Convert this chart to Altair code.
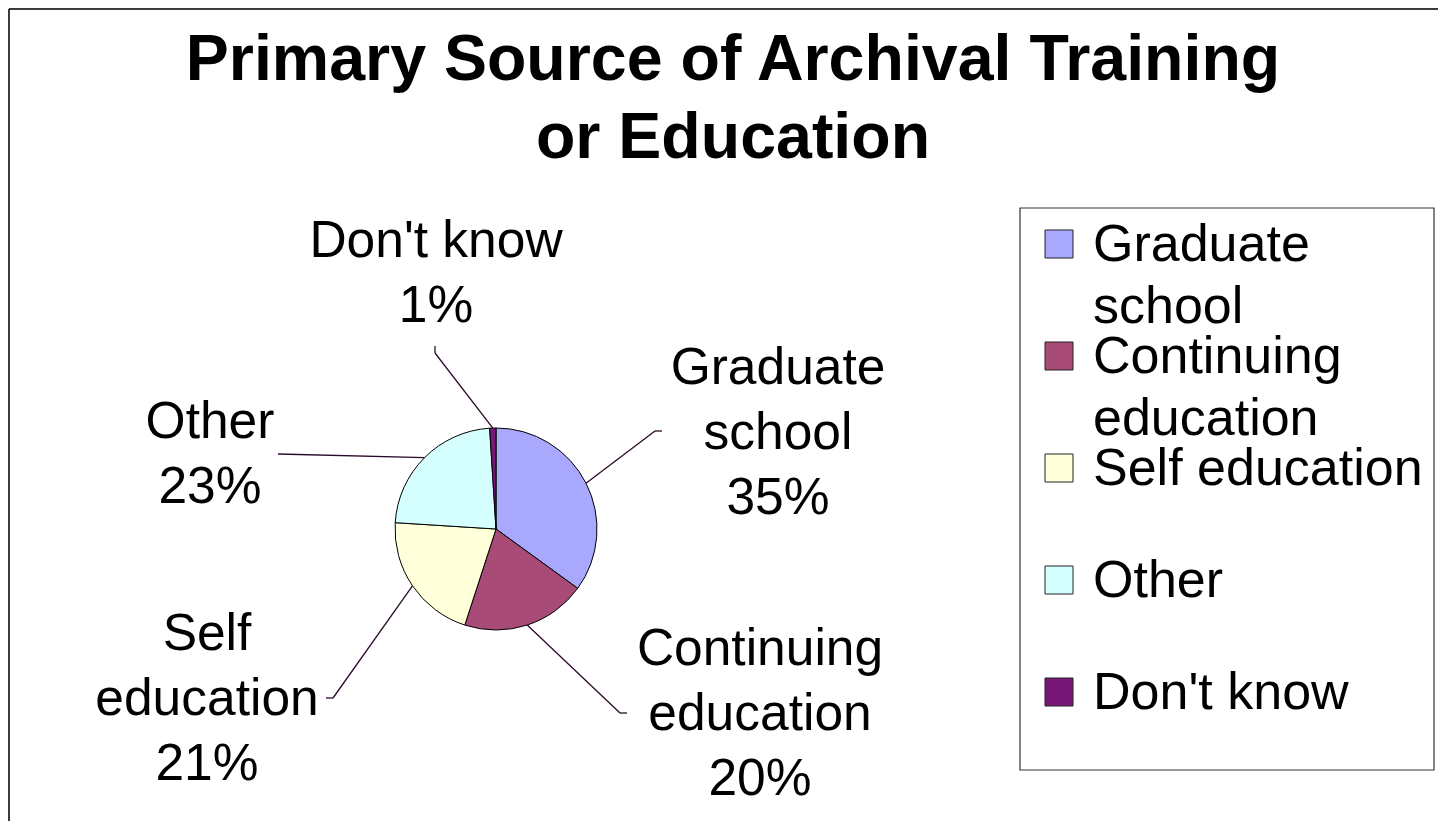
import math
import altair as alt
import pandas as pd

# ---------------- data ----------------
categories = ["Graduate school", "Continuing education", "Self education", "Other", "Don't know"]
percents = [35, 20, 21, 23, 1]
label_names = ["Graduate\nschool", "Continuing\neducation", "Self\neducation", "Other", "Don't know"]
legend_names = ["Graduate\nschool", "Continuing\neducation", "Self education", "Other", "Don't know"]
title_lines = ["Primary Source of Archival Training", "or Education"]

# ---------------- style / layout ----------------
colors = ["#A8A8FF", "#A84B76", "#FFFFD9", "#D5FFFF", "#771877"]
FONT = "Liberation Sans"
W, H = 1430, 813
OFF = 8  # page margin; layout below given in page pixels
CX, CY, R = 496 - OFF, 529 - OFF, 101
# label anchor (center x, first baseline), leader elbow and tick end (page px)
label_pos = [(778, 384), (760, 665), (207, 650), (210, 438), (436, 257)]
elbows = [(655, 431), (620, 713), (333, 698), (278, 454), (435, 353)]
ticks = [(662, 431), (627, 713), (326, 698), (278, 454), (435, 346)]
LBL_SIZE, LBL_LH = 51.5, 65
LEG_SIZE, LEG_LH = 52, 62
LEG_BOX = (1020, 208, 1434, 770)
LEG_SQ_X0, LEG_SQ_X1, LEG_SQ = 1045, 1073, 28
LEG_Y0, LEG_DY = 244, 112
LEG_TX = 1093
TITLE_X, TITLE_Y, TITLE_SIZE, TITLE_LH = 733, 80, 64.5, 78

# ---------------- tables ----------------
pie_df = pd.DataFrame({"cat": categories, "pct": percents, "idx": list(range(len(categories)))})

total = sum(percents)
cum = 0.0
lab_rows, seg_rows = [], []
for i, (c, p) in enumerate(zip(categories, percents)):
    mid = 2 * math.pi * (cum + p / 2) / total
    cum += p
    sx, sy = CX + R * math.sin(mid), CY - R * math.cos(mid)
    ex, ey = elbows[i][0] - OFF, elbows[i][1] - OFF
    tx, ty = ticks[i][0] - OFF, ticks[i][1] - OFF
    seg_rows.append({"x": sx, "y": sy, "x2": ex, "y2": ey})
    seg_rows.append({"x": ex, "y": ey, "x2": tx, "y2": ty})
    lab_rows.append({"x": label_pos[i][0] - OFF, "y": label_pos[i][1] - OFF,
                     "text": f"{label_names[i]}\n{p}%"})
seg_df = pd.DataFrame(seg_rows)
lab_df = pd.DataFrame(lab_rows)

leg_df = pd.DataFrame({
    "cat": categories,
    "text": legend_names,
    "yc": [LEG_Y0 - OFF + i * LEG_DY for i in range(len(categories))],
})
leg_df["y0"] = leg_df["yc"] - LEG_SQ / 2
leg_df["y1"] = leg_df["yc"] + LEG_SQ / 2
leg_df["x0"] = LEG_SQ_X0 - OFF
leg_df["x1"] = LEG_SQ_X1 - OFF
leg_df["tx"] = LEG_TX - OFF
leg_df["ty"] = leg_df["yc"] + 17

box_df = pd.DataFrame({"x": [LEG_BOX[0] - OFF], "y": [LEG_BOX[1] - OFF],
                       "x2": [LEG_BOX[2] - OFF], "y2": [LEG_BOX[3] - OFF]})
title_df = pd.DataFrame({"x": [TITLE_X - OFF], "y": [TITLE_Y - OFF], "text": ["\n".join(title_lines)]})

X = lambda f: alt.X(f, type="quantitative", scale=None, axis=None)
Y = lambda f: alt.Y(f, type="quantitative", scale=None, axis=None)
color_scale = alt.Scale(domain=categories, range=colors)

# border (left + top edges visible in the reference)
border_top = alt.Chart(pd.DataFrame({"a": [0]})).mark_rule(color="black", strokeWidth=1.5).encode(
    x=alt.value(1), x2=alt.value(W), y=alt.value(1))
border_left = alt.Chart(pd.DataFrame({"a": [0]})).mark_rule(color="black", strokeWidth=1.5).encode(
    x=alt.value(1), y=alt.value(1), y2=alt.value(H))

title = alt.Chart(title_df).mark_text(
    font=FONT, fontSize=TITLE_SIZE, fontWeight="bold", align="center", baseline="alphabetic",
    lineBreak="\n", lineHeight=TITLE_LH, color="black"
).encode(x=X("x"), y=Y("y"), text="text:N")

pie = alt.Chart(pie_df).mark_arc(radius=R, stroke="black", strokeWidth=1).encode(
    theta=alt.Theta("pct:Q", stack=True),
    color=alt.Color("cat:N", scale=color_scale, legend=None),
    order=alt.Order("idx:Q"),
    x=alt.value(CX), y=alt.value(CY),
)

leaders = alt.Chart(seg_df).mark_rule(color="#2a0a2a", strokeWidth=1.3).encode(
    x=X("x"), y=Y("y"), x2="x2:Q", y2="y2:Q")

labels = alt.Chart(lab_df).mark_text(
    font=FONT, fontSize=LBL_SIZE, align="center", baseline="alphabetic",
    lineBreak="\n", lineHeight=LBL_LH, color="black"
).encode(x=X("x"), y=Y("y"), text="text:N")

box = alt.Chart(box_df).mark_rect(fill="white", stroke="#333333", strokeWidth=1.2).encode(
    x=X("x"), y=Y("y"), x2="x2:Q", y2="y2:Q")

leg_sq = alt.Chart(leg_df).mark_rect(stroke="#222222", strokeWidth=1).encode(
    x=X("x0"), x2="x1:Q", y=Y("y0"), y2="y1:Q",
    color=alt.Color("cat:N", scale=color_scale, legend=None))

leg_txt = alt.Chart(leg_df).mark_text(
    font=FONT, fontSize=LEG_SIZE, align="left", baseline="alphabetic",
    lineBreak="\n", lineHeight=LEG_LH, color="black"
).encode(x=X("tx"), y=Y("ty"), text="text:N")

chart = alt.layer(
    border_top, border_left, title, pie, leaders, labels, box, leg_sq, leg_txt
).properties(
    width=W, height=H, autosize=alt.AutoSizeParams(type="none"), padding=0
).configure_view(stroke=None).configure(background="white")

chart.save("out.html", embed_options={"renderer": "svg", "actions": False})
